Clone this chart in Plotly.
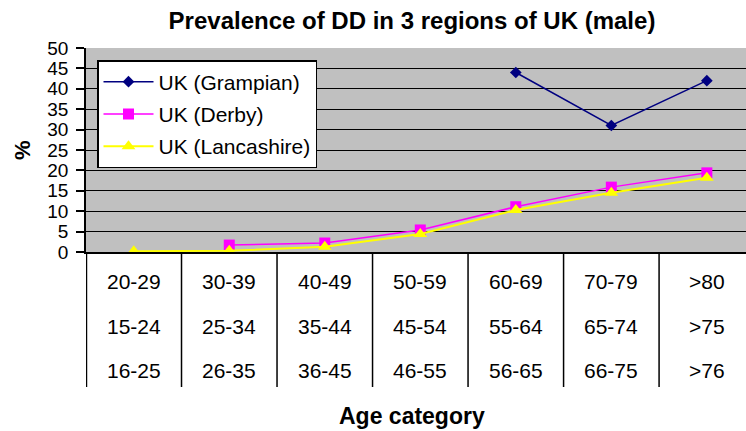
import plotly.graph_objects as go

# ---- data ----
categories = ["20-29", "30-39", "40-49", "50-59", "60-69", "70-79", ">80"]
age_row2 = ["15-24", "25-34", "35-44", "45-54", "55-64", "65-74", ">75"]
age_row3 = ["16-25", "26-35", "36-45", "46-55", "56-65", "66-75", ">76"]

grampian = [None, None, None, None, 44, 31, 42]
derby = [None, 1.7, 2.2, 5.4, 11.1, 15.9, 19.4]
lancashire = [0.2, 0.3, 1.3, 4.4, 10.3, 14.5, 18.2]

y_ticks = list(range(0, 51, 5))

FONT = "Liberation Sans, Arial, sans-serif"

fig = go.Figure()
fig.add_trace(go.Scatter(
    x=categories, y=grampian, name="UK (Grampian)", mode="lines+markers",
    line=dict(color="#000080", width=1.5),
    marker=dict(symbol="diamond", size=9, color="#000080"),
    legendgroup="g1", connectgaps=False))
fig.add_trace(go.Scatter(
    x=categories, y=derby, name="UK (Derby)", mode="lines+markers",
    line=dict(color="#FF00FF", width=1.5),
    marker=dict(symbol="square", size=11, color="#FF00FF"),
    legendgroup="g2"))
fig.add_trace(go.Scatter(
    x=categories, y=lancashire, name="UK (Lancashire)", mode="lines+markers",
    line=dict(color="#FFFF00", width=2),
    marker=dict(symbol="triangle-up", size=12, color="#FFFF00"),
    legendgroup="g3"))

n = len(categories)
ann = []
row_shifts = [-29, -74, -118]
for rowvals, sh in zip([categories, age_row2, age_row3], row_shifts):
    for c, t in zip(categories, rowvals):
        ann.append(dict(x=c, xref="x", y=0, yref="paper", yshift=sh,
                        text=t, showarrow=False, yanchor="middle",
                        font=dict(family=FONT, size=21, color="black")))

ann.append(dict(x=0, xref="paper", xshift=-64, xanchor="center",
                y=0.5, yref="paper", yanchor="middle",
                text="<b>%</b>", textangle=-90, showarrow=False,
                font=dict(family=FONT, size=22, color="black")))
ann.append(dict(x=(412 - 86) / 660, xref="paper", xanchor="center",
                y=0, yref="paper", yshift=-164, yanchor="middle",
                text="<b>Age category</b>", showarrow=False,
                font=dict(family=FONT, size=23, color="black")))

shapes = []
for i in range(n):
    x = i - 0.5 if i > 0 else -0.495
    shapes.append(dict(type="line", xref="x", yref="paper",
                       x0=x, x1=x, y0=0, y1=-135 / 204,
                       line=dict(color="black", width=1.5)))

fig.update_layout(
    width=746, height=431,
    margin=dict(l=86, r=0, t=48, b=179, autoexpand=False),
    paper_bgcolor="white", plot_bgcolor="#C0C0C0",
    title=dict(text="<b>Prevalence of DD in 3 regions of UK (male)</b>",
               x=412 / 746, xanchor="center", y=1 - 21 / 431, yanchor="middle",
               font=dict(family=FONT, size=24, color="black")),
    xaxis=dict(type="category", range=[-0.5, 6.41], showgrid=False,
               showticklabels=False, ticks="", showline=True, automargin=False,
               linecolor="black", linewidth=1.5, zeroline=False),
    yaxis=dict(range=[0, 50], tickvals=y_ticks, ticks="outside", ticklen=8,
               tickcolor="black", tickwidth=1.5, showline=True, automargin=False,
               linecolor="black", linewidth=1.5, gridcolor="black",
               gridwidth=1.3, zeroline=False, ticklabelstandoff=4,
               tickfont=dict(family=FONT, size=19, color="black")),
    legend=dict(x=11 / 660, y=(252 - 60) / 204, xanchor="left", yanchor="top",
                bgcolor="white", bordercolor="black", borderwidth=1.5,
                font=dict(family=FONT, size=21, color="black"),
                traceorder="grouped", tracegroupgap=2, itemwidth=50),
    annotations=ann,
    shapes=shapes,
    showlegend=True,
)

fig.write_html("out.html", config={"displayModeBar": False},
               post_script="document.body.style.margin='0';")
